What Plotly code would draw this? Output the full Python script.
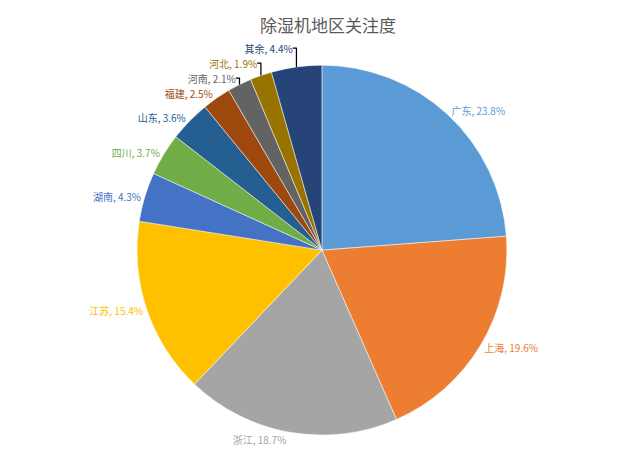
import plotly.graph_objects as go

regions = ['广东', '上海', '浙江', '江苏', '湖南', '四川', '山东', '福建', '河南', '河北', '其余']
shares = [23.8, 19.6, 18.7, 15.4, 4.3, 3.7, 3.6, 2.5, 2.1, 1.9, 4.4]
colors = ['#5B9BD5', '#ED7D31', '#A5A5A5', '#FFC000', '#4472C4', '#70AD47',
          '#255E91', '#9E480E', '#636363', '#997300', '#264478']

labels = [f'{r}, {s}%' for r, s in zip(regions, shares)]

fig = go.Figure(
    go.Pie(
        labels=regions,
        values=shares,
        text=labels,
        textinfo='text',
        textposition='outside',
        outsidetextfont=dict(color=colors, size=10),
        marker=dict(colors=colors, line=dict(color='white', width=0.5)),
        sort=False,
        direction='clockwise',
        rotation=0,
        showlegend=False,
        hoverinfo='label+percent',
        domain=dict(x=[0.2015, 0.7795], y=[0.077, 0.877]),
    )
)

fig.update_layout(
    width=640,
    height=463,
    margin=dict(l=0, r=0, t=0, b=0),
    paper_bgcolor='white',
    font_family='Noto Sans CJK SC',
    title=dict(
        text='除湿机地区关注度',
        x=0.5,
        y=0.962,
        xanchor='center',
        yanchor='middle',
        font=dict(size=17, color='#595959'),
    ),
)

fig.write_html("out.html")
